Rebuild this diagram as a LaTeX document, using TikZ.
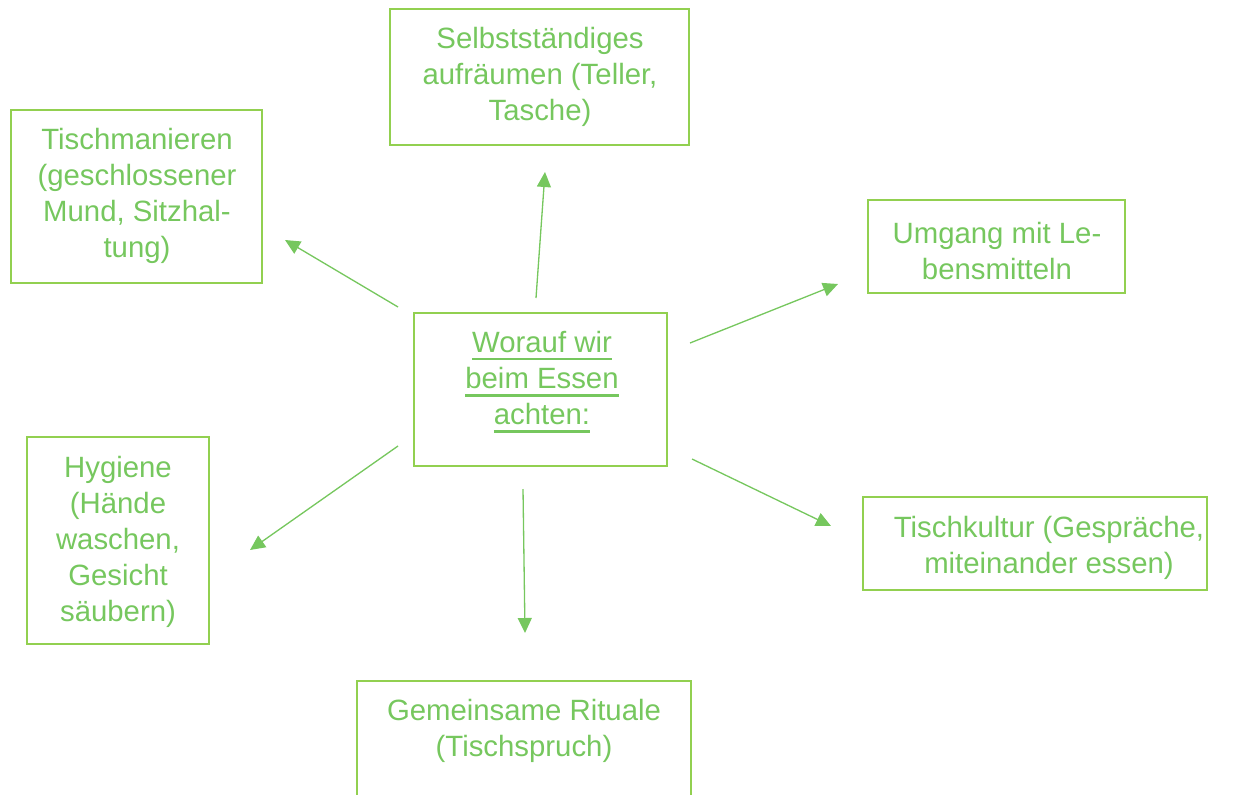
\documentclass[tikz,border=0pt]{standalone}
\usepackage{fontspec}
\setmainfont{Liberation Sans}
\usetikzlibrary{arrows.meta}
\definecolor{boxgreen}{RGB}{146,208,80}
\definecolor{txtgreen}{RGB}{118,199,94}
\newcommand{\unterstr}[1]{\setbox0\hbox{#1}\rlap{\rule[-4.6pt]{\wd0}{1.4pt}}\box0}
\begin{document}
\begin{tikzpicture}[x=0.02cm,y=-0.02cm,
    box/.style={draw=boxgreen,line width=1.5pt,inner sep=0pt},
    txt/.style={text=txtgreen,align=center,inner sep=0pt,font=\fontsize{16.7}{20.6}\selectfont},
    pfeil/.style={draw=txtgreen,line width=0.75pt,-{Triangle[length=0.3cm,width=0.28cm]}}]

        \clip (0,0) rectangle (1239,794);

        \node[box,minimum width=5.98cm,minimum height=2.72cm] (aufr) at (539.5,77) {};
        \node[box,minimum width=5.02cm,minimum height=3.46cm] (manier) at (136.5,196.5) {};
        \node[box,minimum width=5.14cm,minimum height=1.86cm] (umgang) at (996.5,246.5) {};
        \node[box,minimum width=5.06cm,minimum height=3.06cm] (mitte) at (540.5,389.5) {};
        \node[box,minimum width=3.64cm,minimum height=4.14cm] (hygiene) at (118,540.5) {};
        \node[box,minimum width=6.88cm,minimum height=1.86cm] (kultur) at (1035,543.5) {};
        \node[box,minimum width=6.68cm,minimum height=2.6cm] (rituale) at (524,746) {};

        \node[txt] (aufr-t) at (540,77) {Selbstständiges\\aufräumen (Teller,\\Tasche)};
        \node[txt] (manier-t) at (137,196) {Tischmanieren\\(geschlossener\\Mund, Sitzhal-\\tung)};
        \node[txt] (umgang-t) at (997,251) {Umgang mit Le-\\bensmitteln};
        \node[txt] (mitte-t) at (542,382) {\unterstr{Worauf wir}\\\unterstr{beim Essen}\\\unterstr{achten:}};
        \node[txt] (hygiene-t) at (118,542) {Hygiene\\(Hände\\waschen,\\Gesicht\\säubern)};
        \node[txt] (kultur-t) at (1049,548) {Tischkultur (Gespräche,\\miteinander essen)};
        \node[txt] (rituale-t) at (524,731) {Gemeinsame Rituale\\(Tischspruch)};

        \coordinate (von-aufr) at (536,298);
        \coordinate (zu-aufr) at (545,172);
        \coordinate (von-manier) at (398,307);
        \coordinate (zu-manier) at (285,240);
        \coordinate (von-umgang) at (690,343);
        \coordinate (zu-umgang) at (838,284);
        \coordinate (von-hygiene) at (398,446);
        \coordinate (zu-hygiene) at (250,550);
        \coordinate (von-rituale) at (523,489);
        \coordinate (zu-rituale) at (525,633);
        \coordinate (von-kultur) at (692,459);
        \coordinate (zu-kultur) at (831,526);

        \draw[pfeil] (von-aufr) -- (zu-aufr);
        \draw[pfeil] (von-manier) -- (zu-manier);
        \draw[pfeil] (von-umgang) -- (zu-umgang);
        \draw[pfeil] (von-hygiene) -- (zu-hygiene);
        \draw[pfeil] (von-rituale) -- (zu-rituale);
        \draw[pfeil] (von-kultur) -- (zu-kultur);
    \end{tikzpicture}
\end{document}
